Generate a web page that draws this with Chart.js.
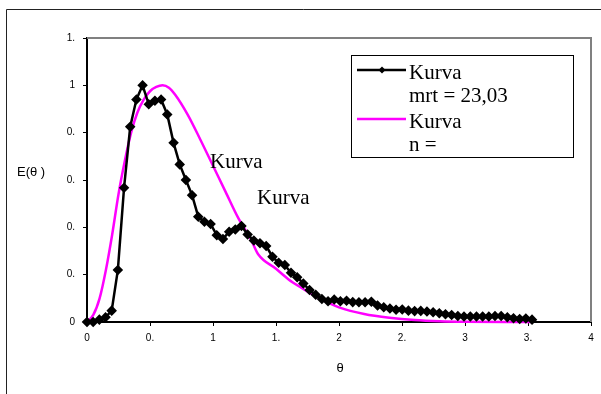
<!DOCTYPE html>
<html>
<head>
<meta charset="utf-8">
<script src="https://cdn.jsdelivr.net/npm/chart.js@4.4.1/dist/chart.umd.min.js"></script>
<style>
  html, body { margin: 0; padding: 0; background: #fff; }
  canvas { display: block; }
</style>
</head>
<body>
<canvas id="rtd" width="601" height="394"></canvas>
<script>
// measured curve (theta, E)
var thetaMeas = [0, 0.049, 0.098, 0.147, 0.196, 0.245, 0.294, 0.343, 0.392, 0.441,
  0.49, 0.539, 0.588, 0.637, 0.687, 0.736, 0.785, 0.834, 0.883, 0.932,
  0.981, 1.03, 1.079, 1.128, 1.177, 1.226, 1.275, 1.324, 1.373, 1.422,
  1.472, 1.521, 1.57, 1.619, 1.668, 1.717, 1.766, 1.815, 1.864, 1.913,
  1.962, 2.011, 2.06, 2.109, 2.158, 2.207, 2.257, 2.306, 2.355, 2.404,
  2.453, 2.502, 2.551, 2.6, 2.649, 2.698, 2.747, 2.796, 2.845, 2.894,
  2.943, 2.992, 3.042, 3.091, 3.14, 3.189, 3.238, 3.287, 3.336, 3.385,
  3.434, 3.483, 3.532];
var eMeas = [0, 0, 0.01, 0.02, 0.048, 0.22, 0.567, 0.825, 0.94, 1.0,
  0.92, 0.935, 0.94, 0.877, 0.757, 0.666, 0.6, 0.536, 0.445, 0.424,
  0.414, 0.367, 0.351, 0.381, 0.391, 0.406, 0.37, 0.344, 0.333, 0.321,
  0.276, 0.25, 0.241, 0.208, 0.189, 0.163, 0.135, 0.115, 0.097, 0.088,
  0.095, 0.088, 0.09, 0.084, 0.083, 0.083, 0.086, 0.07, 0.062, 0.057,
  0.052, 0.053, 0.048, 0.046, 0.047, 0.044, 0.041, 0.037, 0.033, 0.03,
  0.025, 0.023, 0.023, 0.023, 0.023, 0.023, 0.025, 0.025, 0.02, 0.016,
  0.013, 0.015, 0.01];

// model curve
var thetaModel = [0, 0.05, 0.1, 0.15, 0.2, 0.25, 0.3, 0.35, 0.4, 0.45,
  0.5, 0.55, 0.6, 0.65, 0.7, 0.8, 0.9, 1.0, 1.1, 1.2,
  1.3, 1.36, 1.5, 1.6, 1.7, 1.8, 1.9, 2.0, 2.2, 2.4,
  2.6, 2.8, 3.0, 3.53];
var eModel = [0, 0.03, 0.1, 0.22, 0.37, 0.54, 0.68, 0.8, 0.885, 0.94,
  0.975, 0.993, 1.0, 0.99, 0.96, 0.875, 0.77, 0.66, 0.55, 0.44,
  0.35, 0.285, 0.225, 0.18, 0.145, 0.113, 0.085, 0.062, 0.034, 0.018,
  0.008, 0.003, 0.001, 0];

var seriesNames = ['Kurva\nmrt = 23,03', 'Kurva\nn ='];
var xTicks = [0, 0.5, 1, 1.5, 2, 2.5, 3, 3.5, 4];
var yTicks = [0, 0.2, 0.4, 0.6, 0.8, 1.0, 1.2];
var noteText = ['Kurva', 'Kurva'];
var yTitle = 'E(\u03b8 )';
var xTitle = '\u03b8';

function pairs(xs, ys) {
  return xs.map(function (x, i) { return { x: x, y: ys[i] }; });
}

// Excel cut the labels short: 0.2 -> "0.", 1.5 -> "1."
function shortLabel(v) {
  var r = Math.round(v * 1000) / 1000;
  if (Number.isInteger(r)) return String(r);
  return Math.floor(r) + '.';
}

var sans = 'Arial, "Liberation Sans", sans-serif';
var serif = '"Times New Roman", "Liberation Serif", serif';

var extras = {
  id: 'extras',
  beforeDatasetsDraw: function (chart) {
    var ctx = chart.ctx, a = chart.chartArea;
    ctx.save();
    ctx.strokeStyle = '#808080';
    ctx.lineWidth = 2;
    ctx.beginPath();
    ctx.moveTo(a.left, a.top);
    ctx.lineTo(a.right, a.top);
    ctx.lineTo(a.right, a.bottom);
    ctx.stroke();
    ctx.restore();
  },
  afterDraw: function (chart) {
    var ctx = chart.ctx;
    var xs = chart.scales.x, ys = chart.scales.y;
    ctx.save();

    // outer frame
    ctx.strokeStyle = '#222';
    ctx.lineWidth = 1;
    ctx.beginPath();
    ctx.moveTo(6.5, 394);
    ctx.lineTo(6.5, 9.5);
    ctx.lineTo(601, 9.5);
    ctx.stroke();

    // axis titles
    ctx.fillStyle = '#000';
    ctx.font = '13px ' + sans;
    ctx.textBaseline = 'middle';
    ctx.textAlign = 'left';
    ctx.fillText(yTitle, 17, 172);
    ctx.textAlign = 'center';
    ctx.fillText(xTitle, 340, 368);

    // free text labels in the plot
    ctx.font = '21px ' + serif;
    ctx.textAlign = 'left';
    ctx.fillText(noteText[0], xs.getPixelForValue(0.976), ys.getPixelForValue(0.672));
    ctx.fillText(noteText[1], xs.getPixelForValue(1.349), ys.getPixelForValue(0.52));

    // legend box
    ctx.strokeStyle = '#000';
    ctx.lineWidth = 1;
    ctx.strokeRect(351.5, 55.5, 222, 102);
    ctx.textBaseline = 'alphabetic';
    var base = [79, 128];
    chart.data.datasets.forEach(function (ds, i) {
      var y0 = base[i];
      var ly = y0 - 9;
      ctx.strokeStyle = ds.borderColor;
      ctx.lineWidth = ds.borderWidth;
      ctx.beginPath();
      ctx.moveTo(357, ly);
      ctx.lineTo(406, ly);
      ctx.stroke();
      if (ds.pointRadius > 0) {
        ctx.fillStyle = ds.pointBackgroundColor;
        ctx.beginPath();
        ctx.moveTo(382, ly - 3.5);
        ctx.lineTo(385.5, ly);
        ctx.lineTo(382, ly + 3.5);
        ctx.lineTo(378.5, ly);
        ctx.closePath();
        ctx.fill();
      }
      ctx.fillStyle = '#000';
      ds.label.split('\n').forEach(function (t, k) {
        ctx.fillText(t, 409, y0 + k * 23);
      });
    });
    ctx.restore();
  }
};

new Chart(document.getElementById('rtd'), {
  type: 'line',
  data: {
    datasets: [
      {
        label: seriesNames[0],
        data: pairs(thetaMeas, eMeas),
        borderColor: '#000',
        backgroundColor: '#000',
        pointBackgroundColor: '#000',
        pointBorderColor: '#000',
        pointStyle: 'rectRot',
        pointRadius: 3.5,
        borderWidth: 2.5,
        tension: 0,
        clip: false,
        order: 1
      },
      {
        label: seriesNames[1],
        data: pairs(thetaModel, eModel),
        borderColor: '#ff00ff',
        backgroundColor: '#ff00ff',
        pointRadius: 0,
        borderWidth: 2.5,
        cubicInterpolationMode: 'monotone',
        clip: false,
        order: 2
      }
    ]
  },
  options: {
    responsive: false,
    animation: false,
    devicePixelRatio: 1,
    layout: { padding: { top: 38, right: 10, left: 0, bottom: 0 } },
    plugins: { legend: { display: false }, tooltip: { enabled: false } },
    scales: {
      x: {
        type: 'linear',
        min: 0,
        max: 4,
        afterBuildTicks: function (s) { s.ticks = xTicks.map(function (v) { return { value: v }; }); },
        afterFit: function (s) { s.height = 72; },
        ticks: {
          callback: shortLabel,
          color: '#000',
          font: { family: sans, size: 10 },
          padding: 6,
          maxRotation: 0
        },
        grid: { drawOnChartArea: false, color: '#000', tickLength: 4 },
        border: { color: '#000', width: 2 }
      },
      y: {
        min: 0,
        max: 1.2,
        afterBuildTicks: function (s) { s.ticks = yTicks.map(function (v) { return { value: v }; }); },
        afterFit: function (s) { s.width = 87; },
        ticks: {
          callback: shortLabel,
          color: '#000',
          font: { family: sans, size: 10 },
          padding: 8
        },
        grid: { drawOnChartArea: false, color: '#000', tickLength: 4 },
        border: { color: '#000', width: 2 }
      }
    }
  },
  plugins: [extras]
});
</script>
</body>
</html>
